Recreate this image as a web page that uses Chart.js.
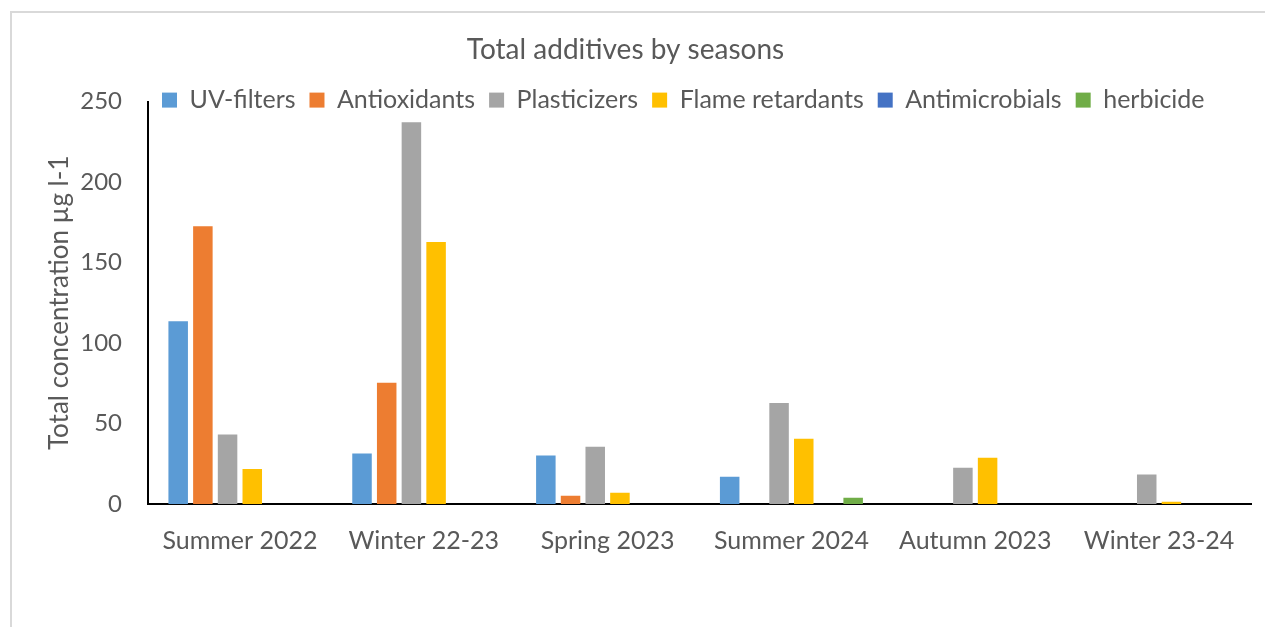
<!DOCTYPE html>
<html>
<head>
<meta charset="utf-8">
<title>Total additives by seasons</title>
<script src="https://cdn.jsdelivr.net/npm/chart.js@4.4.1/dist/chart.umd.min.js"></script>
<style>
  html, body { margin: 0; padding: 0; background: #fff; }
  #wrap { position: relative; width: 1265px; height: 627px; overflow: hidden; }
  #frame {
    position: absolute; left: 10px; top: 11px; width: 1300px; height: 700px;
    border: 2px solid #d9d9d9; box-sizing: border-box;
  }
  #myChart { position: absolute; left: 0; top: 0; }
</style>
</head>
<body>
<div id="wrap">
  <div id="frame"></div>
  <canvas id="myChart" width="1265" height="627"></canvas>
</div>
<script>
  "use strict";

  const seasons = ["Summer 2022", "Winter 22-23", "Spring 2023", "Summer 2024", "Autumn 2023", "Winter 23-24"];

  // total concentration per additive group, µg l-1
  const uvFilters = [113.5, 31.4, 30.2, 16.9, 0, 0];
  const antioxidants = [172.5, 75.3, 5.1, 0, 0, 0];
  const plasticizers = [43.2, 237.2, 35.5, 62.8, 22.5, 18.4];
  const flameRetardants = [21.7, 162.7, 7.0, 40.5, 28.7, 1.4];
  const antimicrobials = [0, 0, 0, 0, 0, 0];
  const herbicide = [0, 0, 0, 3.9, 0, 0];

  const yTicks = [0, 50, 100, 150, 200, 250];

  const textColor = "#595959";
  const fontFamily = "Lato, 'Open Sans', sans-serif";

  const series = [
    ["UV-filters", uvFilters, "#5b9bd5"],
    ["Antioxidants", antioxidants, "#ed7d31"],
    ["Plasticizers", plasticizers, "#a5a5a5"],
    ["Flame retardants", flameRetardants, "#ffc000"],
    ["Antimicrobials", antimicrobials, "#4472c4"],
    ["herbicide", herbicide, "#70ad47"],
  ];

  // the legend sits partly over the top of the plot, so don't clip it to its own box
  const legendNoClip = {
    id: "legendNoClip",
    afterInit(chart) {
      const legend = chart.legend;
      if (!legend) return;
      legend.draw = function () {
        if (this.options.display) this._draw();
      };
    },
  };

  const ctx = document.getElementById("myChart");
  // eslint-disable-next-line no-unused-vars
  const myChart = new Chart(ctx, {
    type: "bar",
    data: {
      labels: seasons,
      datasets: series.map(([label, data, color]) => ({
        label,
        data,
        backgroundColor: color,
        borderWidth: 0,
        categoryPercentage: 0.806,
        barPercentage: 0.79,
      })),
    },
    plugins: [legendNoClip],
    options: {
      responsive: false,
      animation: false,
      devicePixelRatio: 1,
      layout: {
        padding: { left: 0, right: 14, top: 0, bottom: 0 },
      },
      plugins: {
        title: {
          display: true,
          text: "Total additives by seasons",
          color: textColor,
          font: { family: fontFamily, size: 28, weight: "normal" },
          padding: { top: 33, bottom: 7 },
        },
        legend: {
          position: "top",
          align: "start",
          fullSize: false,
          maxHeight: 28,
          labels: {
            color: textColor,
            font: { family: fontFamily, size: 25 },
            boxWidth: 15,
            boxHeight: 15,
            padding: 14,
          },
        },
        tooltip: { enabled: false },
      },
      scales: {
        x: {
          afterFit: (scale) => {
            scale.height = 123;
          },
          grid: { display: false, drawTicks: false },
          border: { display: true, color: "#000", width: 2 },
          ticks: {
            color: textColor,
            font: { family: fontFamily, size: 25 },
            padding: 22,
            maxRotation: 0,
          },
        },
        y: {
          min: 0,
          max: 250,
          afterBuildTicks: (axis) => {
            axis.ticks = yTicks.map((v) => ({ value: v }));
          },
          afterFit: (scale) => {
            scale.width = 148;
          },
          grid: { display: false, drawTicks: false },
          border: { display: true, color: "#000", width: 2 },
          ticks: {
            color: textColor,
            font: { family: fontFamily, size: 24 },
            padding: 26,
          },
          title: {
            display: true,
            text: "Total concentration µg l-1",
            color: textColor,
            font: { family: fontFamily, size: 26 },
            padding: { top: 44, bottom: 0 },
          },
        },
      },
    },
  });
</script>
</body>
</html>
